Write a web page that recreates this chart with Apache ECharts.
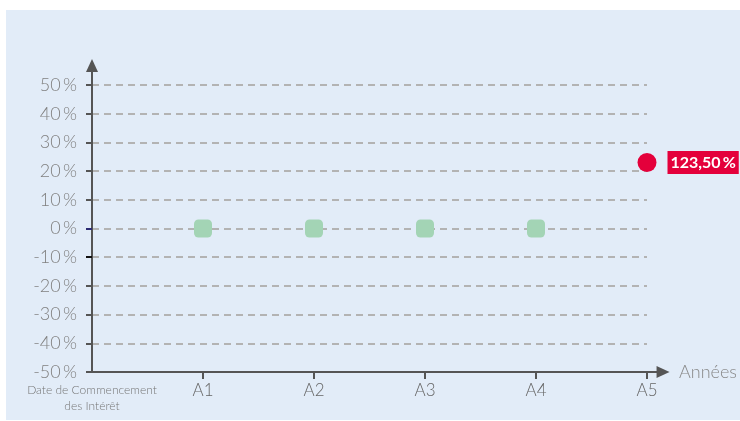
<!DOCTYPE html>
<html>
<head>
<meta charset="utf-8">
<script src="https://cdn.jsdelivr.net/npm/echarts@6/dist/echarts.min.js"></script>
<style>
  html, body { margin: 0; padding: 0; background: #fff; }
  #chart { position: absolute; left: 6px; top: 10px; width: 734px; height: 410px; background: #e2ecf8; }
</style>
</head>
<body>
<div id="chart"></div>
<script>
// x positions: index into categories
const categories = ["Date de Commencement\ndes Intérêt", "A1", "A2", "A3", "A4", "A5"];
const yTicks = [-50, -40, -30, -20, -10, 0, 10, 20, 30, 40, 50];
// green markers (A1..A4)
const greenValues = [null, 0, 0, 0, 0, null];
// red marker (A5) and its label text
const redValues = [null, null, null, null, null, 23];
const redLabels = [null, null, null, null, null, "123,50\u2009%"];

const FONT = "Lato";

const toPoints = (vals) =>
  vals.map((v, i) => (v == null ? null : [i, v])).filter((p) => p);

// an extra y axis that only draws coloured ticks at given values
const tickOnlyAxis = (values, color) => ({
  type: "value",
  gridIndex: 0,
  position: "left",
  offset: 0,
  min: -50,
  max: 50,
  interval: 10,
  z: 10,
  axisLine: { show: false, onZero: false },
  axisLabel: { show: false },
  splitLine: { show: false },
  axisTick: { show: true, length: 6, customValues: values, lineStyle: { color: color, width: 2 } },
});

const chart = echarts.init(document.getElementById("chart"), null, { renderer: "canvas" });

const option = {
  animation: false,
  backgroundColor: "transparent",
  grid: [
    // data grid
    { left: 86, right: 93, top: 75, bottom: 48 },
    // axis-arrow grid, a bit larger so the arrows stick out
    { left: 86, right: 76.5, top: 55.5, bottom: 48 },
  ],
  xAxis: [
    {
      type: "value",
      gridIndex: 0,
      min: 0,
      max: categories.length - 1,
      interval: 1,
      axisLine: { show: false, onZero: false },
      splitLine: { show: false },
      axisTick: {
        show: true,
        length: 7,
        customValues: [1, 2, 3, 4, 5],
        lineStyle: { color: "#555", width: 2 },
      },
      axisLabel: {
        margin: 10,
        customValues: [0, 1, 2, 3, 4, 5],
        formatter: (v) => (v === 0 ? "{s|" + categories[0].replace("\n", "}\n{s|") + "}" : "{b|" + categories[v] + "}"),
        rich: {
          s: { fontFamily: FONT, fontSize: 12, color: "#777", lineHeight: 16, fontWeight: 300 },
          b: { fontFamily: FONT, fontSize: 17, color: "#666", fontWeight: 300 },
        },
      },
    },
    {
      type: "value",
      gridIndex: 1,
      min: 0,
      max: 1,
      axisLine: {
        show: true,
        onZero: false,
        symbol: ["none", "triangle"],
        symbolSize: [12, 13],
        lineStyle: { color: "#555", width: 2 },
      },
      axisTick: { show: false },
      axisLabel: { show: false },
      splitLine: { show: false },
      name: "Années",
      nameLocation: "end",
      nameGap: 16,
      nameTextStyle: { fontFamily: FONT, fontSize: 18, color: "#888", fontWeight: 300, verticalAlign: "middle" },
    },
  ],
  yAxis: [
    {
      type: "value",
      gridIndex: 0,
      position: "left",
      min: -50,
      max: 50,
      interval: 10,
      axisLine: { show: false, onZero: false },
      axisTick: {
        show: true,
        length: 6,
        lineStyle: { color: "#555", width: 2 },
      },
      axisLabel: {
        margin: 15,
        fontFamily: FONT,
        fontSize: 18,
        fontWeight: 300,
        color: "#808080",
        customValues: yTicks,
        formatter: (v) => v + "\u2009%",
      },
      splitLine: {
        show: true,
        showMinLine: false,
        lineStyle: { color: "#b3b3b3", width: 2, type: [7, 5] },
      },
    },
    {
      type: "value",
      gridIndex: 1,
      min: 0,
      max: 1,
      axisLine: {
        show: true,
        onZero: false,
        symbol: ["none", "triangle"],
        symbolSize: [12, 13],
        lineStyle: { color: "#555", width: 2 },
      },
      axisTick: { show: false },
      axisLabel: { show: false },
      splitLine: { show: false },
    },
    tickOnlyAxis([0], "#2b2a72"),
    tickOnlyAxis([-10], "#111"),
  ],
  series: [
    {
      type: "scatter",
      xAxisIndex: 0,
      yAxisIndex: 0,
      data: toPoints(greenValues),
      symbol: "roundRect",
      symbolSize: 18,
      itemStyle: { color: "#a3d4b5", opacity: 1 },
      z: 5,
    },
    {
      type: "scatter",
      xAxisIndex: 0,
      yAxisIndex: 0,
      data: toPoints(redValues),
      symbol: "circle",
      symbolSize: 19,
      itemStyle: { color: "#e4003b", opacity: 1 },
      label: {
        show: true,
        position: "right",
        distance: 11,
        formatter: (p) => redLabels[p.value[0]],
        backgroundColor: "#e4003b",
        color: "#fff",
        fontFamily: FONT,
        fontWeight: "bold",
        fontSize: 16,
        padding: [4, 3, 3, 3],
      },
      z: 6,
    },
  ],
};

chart.setOption(option);
</script>
</body>
</html>
